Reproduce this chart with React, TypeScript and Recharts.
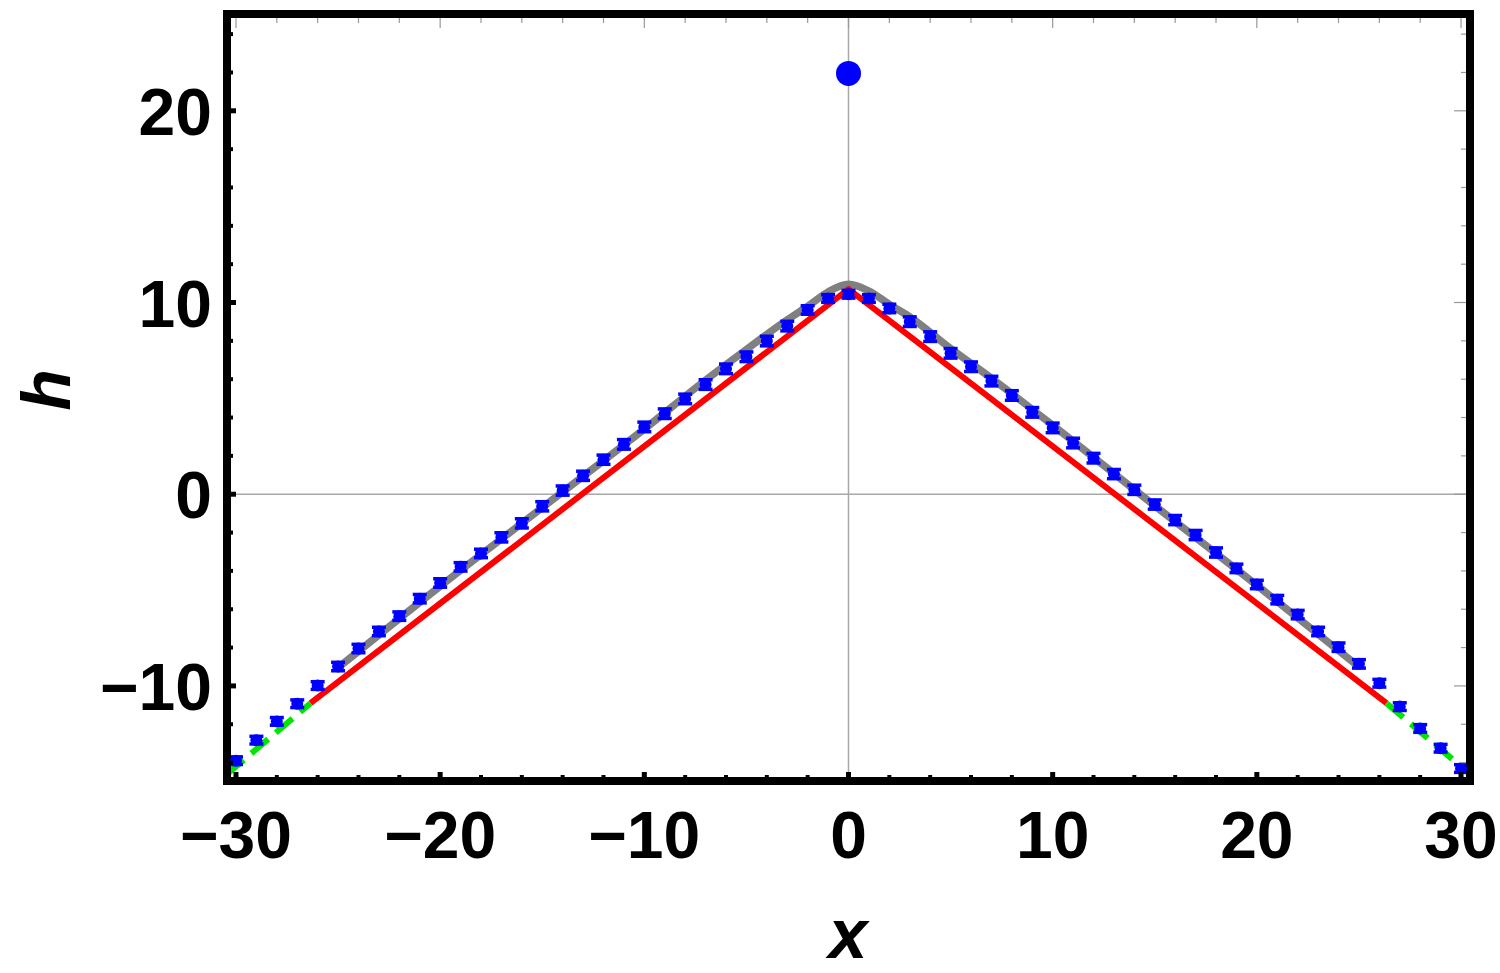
import React from "react";
import {
  ComposedChart,
  Line,
  Scatter,
  ErrorBar,
  XAxis,
  YAxis,
  ReferenceLine,
} from "recharts";

// simulated points, one per integer x
const xs = [
  -30, -29, -28, -27, -26, -25, -24, -23, -22, -21, -20, -19, -18, -17, -16, -15,
  -14, -13, -12, -11, -10, -9, -8, -7, -6, -5, -4, -3, -2, -1, 0, 1, 2, 3, 4, 5,
  6, 7, 8, 9, 10, 11, 12, 13, 14, 15, 16, 17, 18, 19, 20, 21, 22, 23, 24, 25, 26,
  27, 28, 29, 30,
];
const hVals = [
  -13.9, -12.83, -11.85, -10.93, -9.98, -8.99, -8.05, -7.16, -6.36, -5.45, -4.63,
  -3.79, -3.09, -2.25, -1.52, -0.63, 0.19, 0.96, 1.8, 2.6, 3.51, 4.2, 4.97, 5.72,
  6.54, 7.17, 7.99, 8.77, 9.61, 10.21, 10.43, 10.21, 9.69, 9.0, 8.22, 7.35, 6.65,
  5.9, 5.15, 4.27, 3.46, 2.67, 1.88, 1.05, 0.23, -0.54, -1.35, -2.13, -3.04, -3.87,
  -4.71, -5.5, -6.28, -7.16, -7.98, -8.85, -9.86, -11.08, -12.22, -13.25, -14.31,
];
const hErr = [
  0.2, 0.2, 0.2, 0.2, 0.2, 0.22, 0.22, 0.22, 0.22, 0.22, 0.22, 0.22, 0.22, 0.24,
  0.24, 0.24, 0.24, 0.24, 0.24, 0.25, 0.25, 0.25, 0.25, 0.25, 0.25, 0.25, 0.25,
  0.25, 0.22, 0.2, 0.2, 0.2, 0.22, 0.25, 0.25, 0.25, 0.25, 0.25, 0.25, 0.25, 0.25,
  0.25, 0.25, 0.24, 0.24, 0.24, 0.24, 0.24, 0.24, 0.22, 0.22, 0.22, 0.22, 0.22,
  0.22, 0.22, 0.2, 0.2, 0.2, 0.2, 0.2,
];

// the lone outlier at the top
const outlierX = [0];
const outlierH = [21.95];

// smooth gray curve
const grayX = [-25, -20, -15, -10, -7, -5, -3, -2, -1, 0, 1, 2, 3, 5, 7, 10, 15, 20, 25];
const grayH = [-9.05, -4.8, -0.7, 3.4, 5.95, 7.55, 9.1, 9.8, 10.55, 10.95, 10.6, 9.9, 9.25, 7.6, 6.05, 3.6, -0.6, -4.75, -9.0];

// red V line
const redX = [-26.35, 0, 26.35];
const redH = [-10.9, 10.7, -10.9];

// green dashed continuations
const greenLeftX = [-30.44, -26.35];
const greenLeftH = [-14.6, -10.9];
const greenRightX = [26.35, 30.44];
const greenRightH = [-10.9, -14.6];

const xTicks = [
  -30, -28, -26, -24, -22, -20, -18, -16, -14, -12, -10, -8, -6, -4, -2, 0, 2, 4,
  6, 8, 10, 12, 14, 16, 18, 20, 22, 24, 26, 28, 30,
];
const xMajor = [-30, -20, -10, 0, 10, 20, 30];
const yTicks = [-14, -12, -10, -8, -6, -4, -2, 0, 2, 4, 6, 8, 10, 12, 14, 16, 18, 20, 22, 24];
const yMajor = [-10, 0, 10, 20];

const xDomain = [-30.44, 30.44];
const yDomain = [-14.96, 25.05];

const zip = (a: number[], b: number[]) => a.map((x, i) => ({ x, y: b[i] }));
const points = xs.map((x, i) => ({ x, y: hVals[i], err: hErr[i] }));
const outlier = zip(outlierX, outlierH);
const gray = zip(grayX, grayH);
const red = zip(redX, redH);
const greenL = zip(greenLeftX, greenLeftH);
const greenR = zip(greenRightX, greenRightH);

const FONT = "'Liberation Sans', Arial, Helvetica, sans-serif";
const fmt = (v: number) => (v < 0 ? `\u2212${Math.abs(v)}` : `${v}`);

function BottomTick(props: any) {
  const { x, y, payload } = props;
  const major = xMajor.includes(payload.value);
  return (
    <g>
      <line x1={x} x2={x} y1={y} y2={y - (major ? 9 : 6)} stroke="#000" strokeWidth={major ? 5 : 4} />
      {major && (
        <text x={x} y={y + 77} textAnchor="middle" fontFamily={FONT} fontWeight="bold" fontSize={66} fill="#000">
          {fmt(payload.value)}
        </text>
      )}
    </g>
  );
}

function LeftTick(props: any) {
  const { x, y, payload } = props;
  const major = yMajor.includes(payload.value);
  return (
    <g>
      <line x1={x} x2={x + (major ? 9 : 6)} y1={y} y2={y} stroke="#000" strokeWidth={major ? 5 : 4} />
      {major && (
        <text x={x - 15} y={y + 24} textAnchor="end" fontFamily={FONT} fontWeight="bold" fontSize={66} fill="#000">
          {fmt(payload.value)}
        </text>
      )}
    </g>
  );
}

function TopTick(props: any) {
  const { x, y, payload } = props;
  const major = xMajor.includes(payload.value);
  return <line x1={x} x2={x} y1={y + 4} y2={y + 4 + (major ? 10 : 5)} stroke="#999" strokeWidth={1.2} />;
}

function RightTick(props: any) {
  const { x, y, payload } = props;
  const major = yMajor.includes(payload.value);
  return <line x1={x - 4} x2={x - 4 - (major ? 12 : 5)} y1={y} y2={y} stroke="#999" strokeWidth={1.2} />;
}

const frame = { stroke: "#000", strokeWidth: 8, strokeLinecap: "square" as const };

export default function App() {
  return (
    <div style={{ position: "absolute", left: 0, top: 0, width: 1500, height: 973, background: "#fff" }}>
      <ComposedChart width={1500} height={973} margin={{ top: 13, right: 29, bottom: 0, left: 0 }}>
        <XAxis
          dataKey="x"
          type="number"
          domain={xDomain}
          allowDataOverflow
          ticks={xTicks}
          interval={0}
          height={192}
          tickSize={0}
          tickMargin={0}
          tickLine={false}
          axisLine={frame}
          tick={<BottomTick />}
        />
        <XAxis
          xAxisId="top"
          orientation="top"
          dataKey="x"
          type="number"
          domain={xDomain}
          allowDataOverflow
          ticks={xTicks}
          interval={0}
          height={1}
          tickSize={0}
          tickMargin={0}
          tickLine={false}
          axisLine={frame}
          tick={<TopTick />}
        />
        <YAxis
          type="number"
          domain={yDomain}
          allowDataOverflow
          ticks={yTicks}
          interval={0}
          width={227}
          tickSize={0}
          tickMargin={0}
          tickLine={false}
          axisLine={frame}
          tick={<LeftTick />}
        />
        <YAxis
          yAxisId="right"
          orientation="right"
          type="number"
          domain={yDomain}
          allowDataOverflow
          ticks={yTicks}
          interval={0}
          width={1}
          tickSize={0}
          tickMargin={0}
          tickLine={false}
          axisLine={frame}
          tick={<RightTick />}
        />
        <ReferenceLine x={0} stroke="#a8a8a8" strokeWidth={1.5} />
        <ReferenceLine y={0} stroke="#a8a8a8" strokeWidth={1.5} />
        <Line data={gray} dataKey="y" type="monotone" stroke="#808080" strokeWidth={7.5} dot={false} isAnimationActive={false} />
        <Line data={red} dataKey="y" type="linear" stroke="#ff0000" strokeWidth={6} strokeLinejoin="round" dot={false} isAnimationActive={false} />
        <Line data={greenL} dataKey="y" type="linear" stroke="#00e600" strokeWidth={6} strokeDasharray="22 10" dot={false} isAnimationActive={false} />
        <Line data={greenR} dataKey="y" type="linear" stroke="#00e600" strokeWidth={6} strokeDasharray="22 10" dot={false} isAnimationActive={false} />
        <Scatter
          data={points}
          dataKey="y"
          fill="#0000ff"
          isAnimationActive={false}
          shape={(p: any) => <circle cx={p.cx} cy={p.cy} r={6} fill="#0000ff" />}
        >
          <ErrorBar dataKey="err" direction="y" width={7} strokeWidth={3.5} stroke="#0000ff" />
        </Scatter>
        <Scatter
          data={outlier}
          dataKey="y"
          fill="#0000ff"
          isAnimationActive={false}
          shape={(p: any) => <circle cx={p.cx} cy={p.cy} r={12.5} fill="#0000ff" />}
        />
      </ComposedChart>
      <svg width={1500} height={973} style={{ position: "absolute", left: 0, top: 0, pointerEvents: "none" }}>
        <text
          transform="translate(70,390) rotate(-90)"
          textAnchor="middle"
          fontFamily={FONT}
          fontWeight="bold"
          fontStyle="italic"
          fontSize={68}
          fill="#000"
        >
          h
        </text>
        <text x={848} y={958} textAnchor="middle" fontFamily={FONT} fontWeight="bold" fontStyle="italic" fontSize={70} fill="#000">
          x
        </text>
      </svg>
    </div>
  );
}
